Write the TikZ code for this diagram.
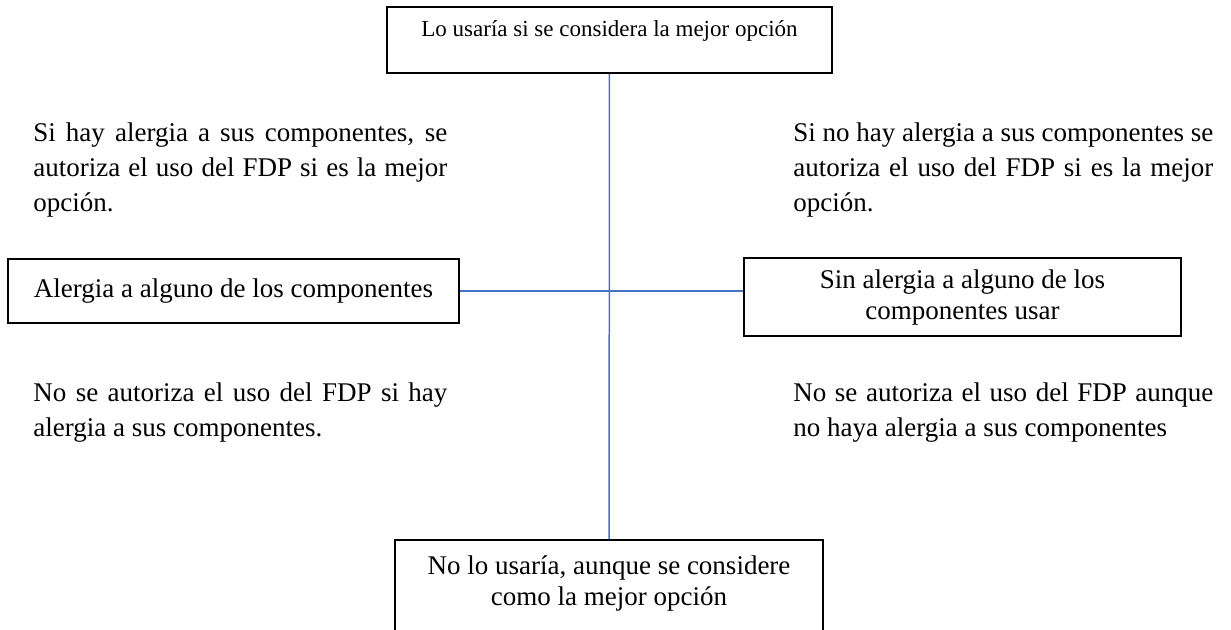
\documentclass[tikz,border=0pt]{standalone}
\usepackage{fontspec}
\setmainfont{Liberation Serif}
\usetikzlibrary{positioning}
\definecolor{enlaceazul}{RGB}{68,114,196}
\setlength{\parindent}{0pt}

\begin{document}
\begin{tikzpicture}[x=0.5pt,y=-0.5pt,font=\fontsize{13.5}{17.5}\selectfont,
  caja/.style={draw,line width=1pt,inner sep=0pt,align=center},
  parrafo/.style={inner sep=0pt,align=justify,anchor=north west},
  enlace/.style={draw=enlaceazul,line width=0.75pt}]
  \useasboundingbox (0,0) rectangle (1231,629);
  \node[caja,minimum width=222.5pt,minimum height=33pt,text depth=12pt,font=\fontsize{11.5}{14}\selectfont] (mejor) at (609.5,40) {Lo usaría si se considera la mejor opción};
  \node[caja,minimum width=225.5pt,minimum height=32pt] (alergia) at (233.5,291) {Alergia a alguno de los componentes};
  \node[caja,minimum width=218.5pt,minimum height=39pt,font=\fontsize{13.5}{15.5}\selectfont] (sinalergia) at (962.5,297) {Sin alergia a alguno de los\\componentes usar};
  \node[caja,minimum width=214pt,inner ysep=8pt,anchor=north,font=\fontsize{13.5}{15.5}\selectfont] (nolo) at (609,539) {No lo usaría, aunque se considere\\como la mejor opción\rule[-30pt]{0pt}{0pt}};
  \node[parrafo,text width=207pt] (siHay) at (33,122) {Si hay alergia a sus componentes, se\linebreak autoriza el uso del FDP si es la mejor\linebreak opción.};
  \node[parrafo,text width=210pt] (siNoHay) at (793,122) {Si no hay alergia a sus componentes se\linebreak autoriza el uso del FDP si es la mejor\linebreak opción.};
  \node[parrafo,text width=207pt] (noHay) at (33,382) {No se autoriza el uso del FDP si hay\linebreak alergia a sus componentes.};
  \node[parrafo,text width=210pt] (aunque) at (793,382) {No se autoriza el uso del FDP aunque\linebreak no haya alergia a sus componentes};
  \draw[enlace] (mejor) -- (nolo);
  \draw[enlace] (alergia.east) -- (alergia.east -| sinalergia.west);
\end{tikzpicture}
\end{document}
